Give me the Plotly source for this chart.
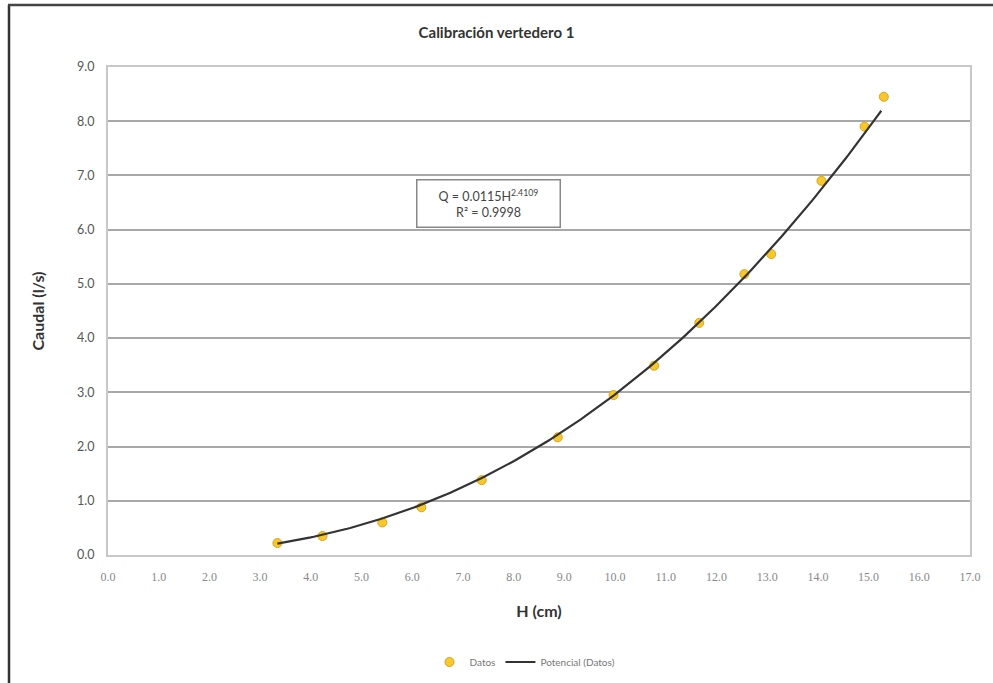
import numpy as np
import plotly.graph_objects as go

# Measured head H (cm) and discharge Q (l/s)
h_cm = [3.34, 4.23, 5.41, 6.18, 7.37, 8.87, 9.97, 10.77, 11.66, 12.55, 13.08, 14.07, 14.92, 15.30]
q_ls = [0.22, 0.35, 0.60, 0.88, 1.38, 2.17, 2.95, 3.49, 4.28, 5.18, 5.55, 6.90, 7.90, 8.45]

# Power trendline Q = a * H^b
coef_a = 0.0115
coef_b = 2.4109
r2 = 0.9998

x_ticks = [float(v) for v in range(0, 18)]
y_ticks = [float(v) for v in range(0, 10)]

h_fit = np.linspace(min(h_cm), 15.25, 200)
q_fit = coef_a * h_fit ** coef_b

fig = go.Figure()
fig.add_trace(go.Scatter(
    x=h_cm, y=q_ls, mode="markers", name="Datos",
    marker=dict(size=9, color="#f7c82a", line=dict(color="#e0a020", width=1)),
))
fig.add_trace(go.Scatter(
    x=h_fit, y=q_fit, mode="lines", name="Potencial (Datos)",
    line=dict(color="#333333", width=2.2),
))

L, R, T, B = 108, 23, 67, 128
W, H = 993, 683
pw, ph = W - L - R, H - T - B

def px_x(p):
    return (p - L) / pw

def px_y(p):
    return (H - B - p) / ph

fig.update_layout(
    width=W, height=H,
    margin=dict(l=L, r=R, t=T, b=B, autoexpand=False),
    paper_bgcolor="white", plot_bgcolor="white",
    font=dict(family="Lato, Open Sans, sans-serif", color="#555555"),
    title=dict(text="<b>Calibración vertedero 1</b>", x=0.5, xanchor="center",
               y=1 - 33 / H, yanchor="middle",
               font=dict(size=15, color="#333333")),
    xaxis=dict(range=[0, 17], tickvals=x_ticks,
               ticktext=[f"{v:.1f}" for v in x_ticks],
               showgrid=False, zeroline=False, automargin=False,
               showline=True, linecolor="#c8c8c8", linewidth=2, mirror=True,
               ticks="", ticklabelstandoff=10,
               tickfont=dict(size=12, color="#888888",
                             family="Liberation Serif, serif"),
               title=dict(text="<b>H (cm)</b>", font=dict(size=16, color="#333333"),
                          standoff=22)),
    yaxis=dict(range=[0, 9], tickvals=y_ticks,
               ticktext=[f"{v:.1f}" for v in y_ticks],
               showgrid=True, gridcolor="#a8a8a8", gridwidth=1.5, zeroline=False,
               automargin=False,
               showline=True, linecolor="#c8c8c8", linewidth=2, mirror=True,
               ticks="", ticklabelstandoff=9,
               tickfont=dict(size=12.5, color="#555555"),
               title=dict(text="<b>Caudal (l/s)</b>", font=dict(size=16, color="#333333"),
                          standoff=28)),
    showlegend=True,
    legend=dict(orientation="h", x=525 / W, xanchor="center", xref="container",
                y=1 - 662 / H, yanchor="middle", yref="container",
                font=dict(size=10, color="#777777"), itemwidth=30),
)

fig.add_annotation(
    x=7.51, y=6.49, xref="x", yref="y", showarrow=False,
    text=f"Q = {coef_a}H<sup>{coef_b}</sup><br>R² = {r2}",
    font=dict(size=12.5, color="#444444"),
    bordercolor="#888888", borderwidth=1.5, borderpad=6, bgcolor="white",
    align="center", width=130,
)

# Outer chart frame (left and top edges)
fig.add_shape(type="line", xref="paper", yref="paper",
              x0=px_x(9), x1=px_x(9), y0=px_y(5), y1=px_y(690),
              line=dict(color="#333333", width=2.5))
fig.add_shape(type="line", xref="paper", yref="paper",
              x0=px_x(8), x1=px_x(1000), y0=px_y(5), y1=px_y(5),
              line=dict(color="#444444", width=2.5))

fig.write_html("out.html")
